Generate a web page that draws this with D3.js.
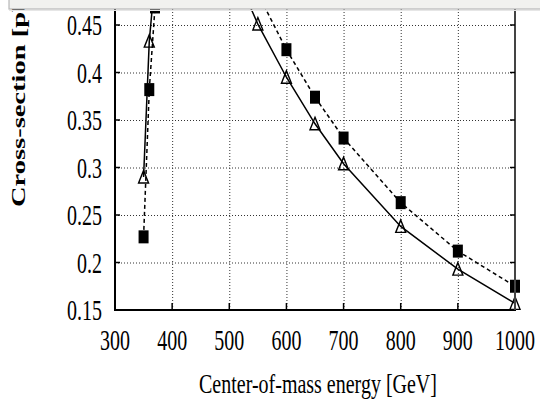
<!DOCTYPE html>
<html>
<head>
<meta charset="utf-8">
<script src="https://cdn.jsdelivr.net/npm/d3@7"></script>
<style>
  body { margin: 0; background: #fff; }
  text { font-family: "Liberation Serif", "Times New Roman", serif; fill: #000; }
</style>
</head>
<body>
<svg width="540" height="401"></svg>
<script>
// energies [GeV]
const energySquares = [350, 360, 370, 380, 400, 450, 500, 550, 600, 650, 700, 800, 900, 1000];
const sigmaSquares  = [0.227, 0.382, 0.469, 0.53, 0.60, 0.62, 0.56, 0.483, 0.424, 0.374, 0.331, 0.263, 0.212, 0.175];
const energyTriangles = [350, 360, 370, 380, 400, 450, 500, 550, 600, 650, 700, 800, 900, 1000];
const sigmaTriangles  = [0.290, 0.433, 0.50, 0.56, 0.60, 0.58, 0.519, 0.451, 0.395, 0.346, 0.304, 0.238, 0.193, 0.157];
const xTicks = [300, 400, 500, 600, 700, 800, 900, 1000];
const yTicks = [0.15, 0.2, 0.25, 0.3, 0.35, 0.4, 0.45];

const svg = d3.select("svg");

const x = d3.scaleLinear().domain([300, 1000]).range([115, 515]);
const y = d3.scaleLinear().domain([0.15, 0.45]).range([310, 25]);

const stretch = 1.5; // the picture is stretched vertically

// grid
const grid = svg.append("g").attr("stroke", "#333").attr("stroke-width", 1)
  .attr("stroke-dasharray", "1,2");
grid.selectAll("line.v").data(xTicks.slice(1, -1)).enter().append("line")
  .attr("x1", d => x(d) + 0.5).attr("x2", d => x(d) + 0.5)
  .attr("y1", y(0.15)).attr("y2", -10);
grid.selectAll("line.h").data(yTicks.slice(1)).enter().append("line")
  .attr("x1", x(300)).attr("x2", x(1000))
  .attr("y1", d => y(d) + 0.5).attr("y2", d => y(d) + 0.5);

// series (points above the frame simply run off the top of the picture)
const plot = svg.append("g");
const sq = energySquares.map((e, i) => [e, sigmaSquares[i]]);
const tr = energyTriangles.map((e, i) => [e, sigmaTriangles[i]]);
const line = d3.line().x(d => x(d[0])).y(d => y(d[1]));

plot.append("path").datum(sq).attr("d", line)
  .attr("fill", "none").attr("stroke", "#000").attr("stroke-width", 1.5)
  .attr("stroke-dasharray", "4,3");
plot.append("path").datum(tr).attr("d", line)
  .attr("fill", "none").attr("stroke", "#000").attr("stroke-width", 1.5);

plot.selectAll("rect.sq").data(sq).enter().append("rect")
  .attr("x", d => x(d[0]) - 5).attr("y", d => y(d[1]) - 6.5)
  .attr("width", 10).attr("height", 13).attr("fill", "#000");

plot.selectAll("path.tri").data(tr).enter().append("path")
  .attr("transform", d => "translate(" + x(d[0]) + "," + y(d[1]) + ")")
  .attr("d", "M0,-6.5L5,6L-5,6Z")
  .attr("fill", "none").attr("stroke", "#000").attr("stroke-width", 1.4);

// frame
svg.append("line").attr("x1", x(300)).attr("x2", x(300)).attr("y1", 0).attr("y2", y(0.15) + 1)
  .attr("stroke", "#000").attr("stroke-width", 2);
svg.append("line").attr("x1", x(300) - 1).attr("x2", x(1000) + 1).attr("y1", y(0.15)).attr("y2", y(0.15))
  .attr("stroke", "#000").attr("stroke-width", 2);
svg.append("line").attr("x1", x(1000)).attr("x2", x(1000)).attr("y1", 0).attr("y2", y(0.15))
  .attr("stroke", "#444").attr("stroke-width", 2);

// inward ticks
const ticks = svg.append("g").attr("stroke", "#000").attr("stroke-width", 1.5);
ticks.selectAll("line.bx").data(xTicks.slice(1, -1)).enter().append("line")
  .attr("x1", d => x(d)).attr("x2", d => x(d)).attr("y1", y(0.15)).attr("y2", y(0.15) - 7);
ticks.selectAll("line.ly").data(yTicks.slice(1)).enter().append("line")
  .attr("x1", x(300)).attr("x2", x(300) + 5).attr("y1", d => y(d)).attr("y2", d => y(d));
ticks.selectAll("line.ry").data(yTicks.slice(1)).enter().append("line")
  .attr("x1", x(1000)).attr("x2", x(1000) - 5).attr("y1", d => y(d)).attr("y2", d => y(d));

// tick labels
svg.append("g").selectAll("text").data(xTicks).enter().append("text")
  .attr("transform", d => "translate(" + x(d) + ",350) scale(1," + stretch + ")")
  .attr("text-anchor", "middle").attr("font-size", 20)
  .text(d => d);
svg.append("g").selectAll("text").data(yTicks).enter().append("text")
  .attr("transform", d => "translate(102," + (y(d) + 10) + ") scale(1," + stretch + ")")
  .attr("text-anchor", "end").attr("font-size", 20)
  .text(d => d);

// axis titles
svg.append("text")
  .attr("transform", "translate(318,393) scale(1,1.35)")
  .attr("text-anchor", "middle").attr("font-size", 20)
  .text("Center-of-mass energy [GeV]");
svg.append("text")
  .attr("transform", "translate(25,207) rotate(-90) scale(" + stretch + ",1)")
  .attr("font-size", 19).attr("font-weight", "bold")
  .text("Cross-section [pb]");

// box covering the top edge
svg.append("rect").attr("x", 9).attr("y", -1).attr("width", 540).attr("height", 10)
  .attr("fill", "#f1f1ef").attr("stroke", "#b8b8b8").attr("stroke-width", 1.2);
svg.append("line").attr("x1", 9).attr("x2", 540).attr("y1", 10.5).attr("y2", 10.5)
  .attr("stroke", "#e6e6e6").attr("stroke-width", 1);
</script>
</body>
</html>
